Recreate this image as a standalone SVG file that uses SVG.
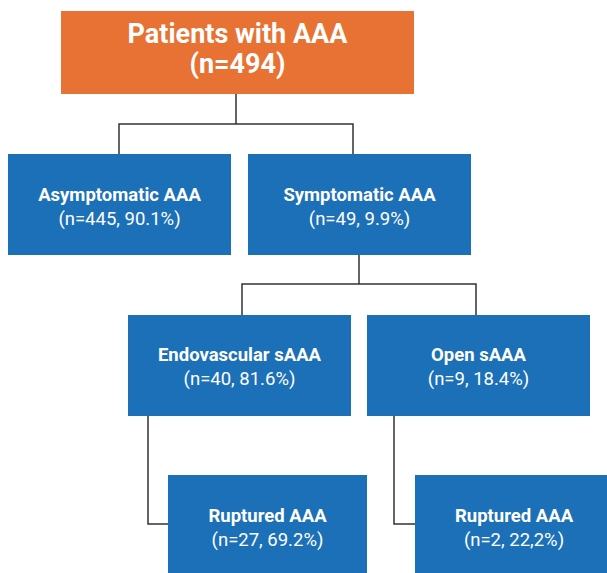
<svg xmlns="http://www.w3.org/2000/svg" width="607" height="573" viewBox="0 0 607 573">
<style>
.box{fill:#1C70B8}
.top{fill:#E87234}
.t{font-family:"Roboto","Liberation Sans",sans-serif;fill:#fff;text-anchor:middle;font-size:18.5px}
.b{font-weight:bold}
.big{font-size:27px;font-weight:bold}
.c{fill:none;stroke:#333;stroke-width:1.5}
</style>
<rect width="607" height="573" fill="#fff"/>
<g id="connectors">
<path class="c" d="M236,94 V124 M119,155 V124 H353 V155"/>
<path class="c" d="M359,255 V284 M242,316 V284 H476 V316"/>
<path class="c" d="M148,415 V524 H168"/>
<path class="c" d="M394,415 V524 H415"/>
</g>
<g id="n-patients">
<rect class="top" x="61" y="11" width="353" height="83"/>
<text class="t big" x="237.5" y="43">Patients with AAA</text>
<text class="t big" x="237.5" y="73">(n=494)</text>
</g>
<g id="n-asym">
<rect class="box" x="8" y="154" width="223" height="101"/>
<text class="t b" x="119.5" y="201">Asymptomatic AAA</text>
<text class="t" x="119.5" y="225">(n=445, 90.1%)</text>
</g>
<g id="n-sym">
<rect class="box" x="248" y="154" width="223" height="101"/>
<text class="t b" x="359.5" y="201">Symptomatic AAA</text>
<text class="t" x="359.5" y="225">(n=49, 9.9%)</text>
</g>
<g id="n-endo">
<rect class="box" x="128" y="315" width="223" height="101"/>
<text class="t b" x="239.5" y="361">Endovascular sAAA</text>
<text class="t" x="239.5" y="385">(n=40, 81.6%)</text>
</g>
<g id="n-open">
<rect class="box" x="367" y="315" width="223" height="101"/>
<text class="t b" x="478.5" y="361">Open sAAA</text>
<text class="t" x="478.5" y="385">(n=9, 18.4%)</text>
</g>
<g id="n-rupt1">
<rect class="box" x="168" y="475" width="199" height="98"/>
<text class="t b" x="267.5" y="522">Ruptured AAA</text>
<text class="t" x="267.5" y="546">(n=27, 69.2%)</text>
</g>
<g id="n-rupt2">
<rect class="box" x="415" y="475" width="192" height="98"/>
<text class="t b" x="514" y="522">Ruptured AAA</text>
<text class="t" x="514" y="546">(n=2, 22,2%)</text>
</g>
</svg>
